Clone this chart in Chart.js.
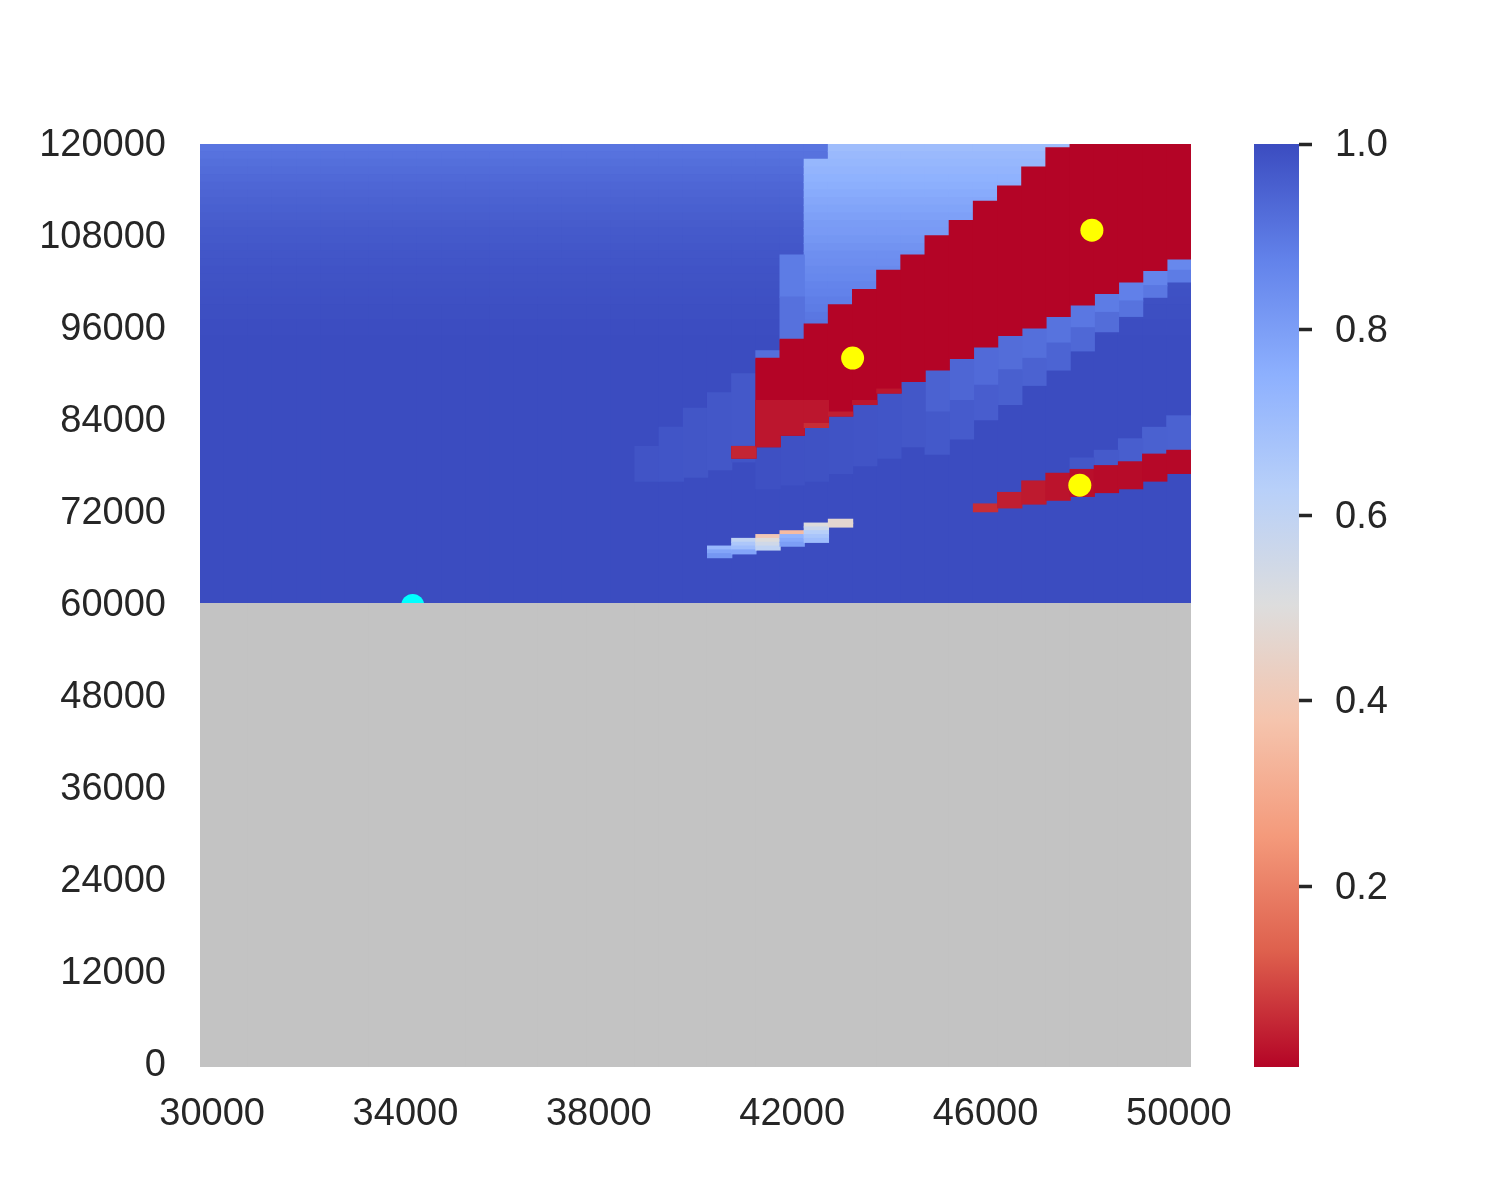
<!DOCTYPE html>
<html>
<head>
<meta charset="utf-8">
<script src="https://cdn.jsdelivr.net/npm/chart.js@4.4.0/dist/chart.umd.min.js"></script>
<style>
    body { margin: 0; background: #fff; }
    #wrap { position: relative; width: 1500px; height: 1200px; }
    #heat { position: absolute; left: 0; top: 0; }
    #cbar { position: absolute; left: 1200px; top: 0; }
</style>
</head>
<body>
<div id="wrap">
    <canvas id="heat" width="1500" height="1200"></canvas>
    <canvas id="cbar" width="300" height="1200"></canvas>
</div>
<script>
// Heatmap over the (x, y) grid with a reversed coolwarm scale

// Grid: column centres and row step
const xCols = [30000, 30500, 31000, 31500, 32000, 32500, 33000, 33500, 34000, 34500,
               35000, 35500, 36000, 36500, 37000, 37500, 38000, 38500, 39000, 39500,
               40000, 40500, 41000, 41500, 42000, 42500, 43000, 43500, 44000, 44500,
               45000, 45500, 46000, 46500, 47000, 47500, 48000, 48500, 49000, 49500, 50000];
const colStep = 500;
const rowStep = 500;
const yBottom = 0;
const yTop = 120000;
const nanTop = 60000;      // rows up to here have no value (grey)
const vmin = 0.005;
const vmax = 1.0;

const xTicks = [30000, 34000, 38000, 42000, 46000, 50000];
const yTicks = [0, 12000, 24000, 36000, 48000, 60000, 72000, 84000, 96000, 108000, 120000];
const cbarTicks = [0.2, 0.4, 0.6, 0.8, 1.0];

// Background shading by row bands [from, to, value]
const baseBands = [
    [119500, 120000, 0.905], [118500, 119000, 0.912], [117500, 118000, 0.92],
    [116500, 117000, 0.927], [115500, 116000, 0.933], [114500, 115000, 0.939],
    [113500, 114000, 0.944], [112500, 113000, 0.949], [111500, 112000, 0.954],
    [110500, 111000, 0.959], [109500, 110000, 0.963], [108500, 109000, 0.967],
    [107500, 108000, 0.971], [106500, 107000, 0.974], [105500, 106000, 0.977],
    [104500, 105000, 0.98], [103500, 104000, 0.983], [102500, 103000, 0.985],
    [101500, 102000, 0.987], [100500, 101000, 0.989], [99500, 100000, 0.991],
    [97500, 99000, 0.994], [95500, 97000, 0.997], [60500, 95000, 1.0]
];

// Light wedge above the upper red band
const wedgeCols = [25, 26, 27, 28, 29, 30, 31, 32, 33, 34, 35];
const wedgeLo = [97000, 99500, 101500, 104000, 106000, 108500, 110500, 113000, 115000, 117500, 120000];
const wedgeHi = [118000, 120000, 120000, 120000, 120000, 120000, 120000, 120000, 120000, 120000, 120000];
const wedgeBands = [
    [119500, 120000, 0.70], [118500, 119000, 0.715], [117500, 118000, 0.725],
    [116500, 117000, 0.735], [115500, 116000, 0.745], [114500, 115000, 0.755],
    [113500, 114000, 0.765], [112500, 113000, 0.775], [111500, 112000, 0.785],
    [110500, 111000, 0.795], [109500, 110000, 0.805], [108500, 109000, 0.81],
    [107500, 108000, 0.82], [106500, 107000, 0.83], [105500, 106000, 0.84],
    [104500, 105000, 0.845], [103500, 104000, 0.855], [102500, 103000, 0.86],
    [101500, 102000, 0.87], [100500, 101000, 0.875], [99500, 100000, 0.885],
    [98500, 99000, 0.89], [97500, 98000, 0.90], [96500, 97000, 0.905], [60500, 96000, 0.91]
];

// Upper red band
const redCols = [22, 23, 24, 25, 26, 27, 28, 29, 30, 31, 32, 33, 34, 35, 36, 37, 38, 39, 40];
const redLo = [79500, 81000, 82500, 83500, 85000, 86500, 88000, 89500, 91000, 92500,
               94000, 95500, 96500, 98000, 99500, 101000, 102500, 104000, 105500];
const redHi = [80500, 92000, 94500, 96500, 99000, 101000, 103500, 105500, 108000, 110000,
               112500, 114500, 117000, 119500, 120000, 120000, 120000, 120000, 120000];
const redValue = 0.005;

// Lower red band
const lowCols = [32, 33, 34, 35, 36, 37, 38, 39, 40];
const lowLo = [72500, 73000, 73500, 74000, 74500, 75000, 75500, 76500, 77500];
const lowHi = [73000, 74500, 76000, 77000, 77500, 78000, 78500, 79500, 80000];
const lowVal = [0.06, 0.04, 0.035, 0.025, 0.02, 0.015, 0.015, 0.01, 0.01];

// Blue patches [column, from, to, value]
const bluePatches = [
    [24, 100500, 105500, 0.89], [24, 95000, 100000, 0.915], [23, 92500, 93000, 0.92],
    [18, 76500, 80500, 0.982], [19, 76500, 83000, 0.98], [20, 77000, 85500, 0.978],
    [21, 78000, 87500, 0.975], [22, 81000, 90000, 0.972], [22, 79000, 79000, 0.98],
    // trail under the upper red band
    [40, 104000, 105000, 0.86], [40, 102500, 103500, 0.89],
    [39, 102000, 103500, 0.87], [39, 100500, 101500, 0.90],
    [38, 100000, 102000, 0.88], [38, 98000, 99500, 0.91],
    [37, 98500, 100500, 0.89], [37, 96000, 98000, 0.925],
    [36, 96500, 99000, 0.90], [36, 93500, 96000, 0.935],
    [35, 94500, 97500, 0.91], [35, 91000, 94000, 0.945],
    [34, 92500, 96000, 0.92], [34, 89000, 92000, 0.95],
    [33, 91000, 95000, 0.925], [33, 86500, 90500, 0.955],
    [32, 89000, 93500, 0.93], [32, 84500, 88500, 0.96],
    [31, 87000, 92000, 0.94], [31, 82000, 86500, 0.965],
    [30, 85500, 90500, 0.95], [30, 80000, 85000, 0.97],
    [29, 81000, 89000, 0.975], [28, 79500, 87500, 0.98], [27, 78500, 86000, 0.982],
    [26, 77500, 84500, 0.985], [25, 76500, 83000, 0.987], [24, 76000, 82000, 0.988],
    [23, 75500, 80500, 0.99],
    // trail above the lower red band
    [40, 80500, 84500, 0.95], [39, 80000, 83000, 0.952], [38, 79000, 81500, 0.958],
    [37, 78500, 80000, 0.968], [36, 78000, 79000, 0.975]
];

// Lighter red cells inside the upper band
const redPatches = [
    [22, 79500, 80500, 0.05], [23, 81000, 86500, 0.03], [24, 82500, 86500, 0.03],
    [25, 84000, 86500, 0.03], [25, 83500, 83500, 0.06], [26, 85000, 85000, 0.04],
    [27, 86500, 86500, 0.03], [28, 88000, 88000, 0.03]
];

// Thin light strip [column, row, value]
const stripCells = [
    [21, 67500, 0.72], [21, 67000, 0.78], [21, 66500, 0.82],
    [22, 68500, 0.60], [22, 68000, 0.66], [22, 67500, 0.70], [22, 67000, 0.78],
    [23, 69000, 0.40], [23, 68500, 0.50], [23, 68000, 0.55], [23, 67500, 0.60],
    [24, 69500, 0.35], [24, 69000, 0.74], [24, 68500, 0.77], [24, 68000, 0.80],
    [25, 70500, 0.50], [25, 70000, 0.57], [25, 69500, 0.63], [25, 69000, 0.67], [25, 68500, 0.70],
    [26, 71000, 0.47], [26, 70500, 0.47]
];

// Markers
const yellowX = [43250, 48200, 47950];
const yellowY = [92300, 109000, 75700];
const cyanX = [34150];
const cyanY = [60000];

// coolwarm colour table, blue end first
const coolwarm = [[59, 76, 192], [98, 130, 234], [141, 176, 254], [184, 208, 249], [221, 221, 221],
                  [245, 196, 173], [244, 154, 123], [222, 96, 77], [180, 4, 38]];

function coolwarmAt(p) {
    const t = Math.min(1, Math.max(0, p)) * (coolwarm.length - 1);
    const i = Math.min(Math.floor(t), coolwarm.length - 2);
    const f = t - i;
    const a = coolwarm[i], b = coolwarm[i + 1];
    const c = [0, 1, 2].map(k => Math.round(a[k] + (b[k] - a[k]) * f));
    return `rgb(${c[0]}, ${c[1]}, ${c[2]})`;
}

// reversed map: high values are blue
function colourFor(v) {
    return coolwarmAt(1 - (v - vmin) / (vmax - vmin));
}

const textColor = '#262626';
const tickFont = { family: "'Liberation Sans', Arial, sans-serif", size: 38 };

// Build the heat cells
const cells = [];
const cellColors = [];

function addRun(col, lo, hi, v) {
    if (hi < lo) return;
    cells.push({ x: xCols[col], y: [lo - rowStep / 2, hi + rowStep / 2] });
    cellColors.push(colourFor(v));
}

xCols.forEach((x, col) => {
    baseBands.forEach(b => addRun(col, b[0], b[1], b[2]));
});

wedgeCols.forEach((col, i) => {
    wedgeBands.forEach(b => {
        addRun(col, Math.max(wedgeLo[i], b[0]), Math.min(wedgeHi[i], b[1]), b[2]);
    });
});

bluePatches.forEach(p => addRun(p[0], p[1], p[2], p[3]));

redCols.forEach((col, i) => addRun(col, redLo[i], redHi[i], redValue));
redPatches.forEach(p => addRun(p[0], p[1], p[2], p[3]));

lowCols.forEach((col, i) => addRun(col, lowLo[i], lowHi[i], lowVal[i]));

stripCells.forEach(c => addRun(c[0], c[1], c[1], c[2]));

const greyCells = xCols.map(x => ({ x: x, y: [yBottom - rowStep / 2, nanTop + rowStep / 2] }));

new Chart(document.getElementById('heat'), {
    type: 'bar',
    data: {
        datasets: [
            {
                data: cells,
                backgroundColor: cellColors,
                borderWidth: 0,
                barPercentage: 1,
                categoryPercentage: 1,
                inflateAmount: 0.6,
                grouped: false,
                order: 3
            },
            {
                data: greyCells,
                backgroundColor: '#c3c3c3',
                borderWidth: 0,
                barPercentage: 1,
                categoryPercentage: 1,
                inflateAmount: 0.6,
                grouped: false,
                order: 1
            },
            {
                type: 'scatter',
                data: yellowX.map((x, i) => ({ x: x, y: yellowY[i] })),
                backgroundColor: '#ffff00',
                borderWidth: 0,
                pointRadius: 11.5,
                order: 2
            },
            {
                type: 'scatter',
                data: cyanX.map((x, i) => ({ x: x, y: cyanY[i] })),
                backgroundColor: '#00ffff',
                borderWidth: 0,
                pointRadius: 11.5,
                order: 2
            }
        ]
    },
    options: {
        responsive: false,
        animation: false,
        devicePixelRatio: 1,
        layout: { padding: { top: 144, right: 309, left: 0, bottom: 0 } },
        plugins: {
            legend: { display: false },
            tooltip: { enabled: false }
        },
        scales: {
            x: {
                type: 'linear',
                min: xCols[0] - colStep / 2,
                max: xCols[xCols.length - 1] + colStep / 2,
                offset: false,
                grid: { display: false, drawTicks: false },
                border: { display: false },
                afterBuildTicks: scale => { scale.ticks = xTicks.map(v => ({ value: v })); },
                afterFit: scale => { scale.height = 133; },
                ticks: {
                    font: tickFont,
                    color: textColor,
                    padding: 25,
                    maxRotation: 0,
                    autoSkip: false,
                    callback: v => String(v)
                }
            },
            y: {
                type: 'linear',
                min: yBottom - rowStep / 2,
                max: yTop + rowStep / 2,
                grid: { display: false, drawTicks: false },
                border: { display: false },
                afterBuildTicks: scale => { scale.ticks = yTicks.map(v => ({ value: v })); },
                afterFit: scale => { scale.width = 200; },
                ticks: {
                    font: tickFont,
                    color: textColor,
                    padding: 34,
                    labelOffset: 0,
                    autoSkip: false,
                    callback: v => String(v)
                }
            }
        }
    }
});

// Colour bar
function barGradient(context) {
    const area = context.chart.chartArea;
    if (!area) return colourFor(0.5);
    const g = context.chart.ctx.createLinearGradient(0, area.bottom, 0, area.top);
    coolwarm.forEach((c, i) => {
        const p = i / (coolwarm.length - 1);
        g.addColorStop(1 - p, `rgb(${c[0]}, ${c[1]}, ${c[2]})`);
    });
    return g;
}

new Chart(document.getElementById('cbar'), {
    type: 'bar',
    data: {
        labels: [''],
        datasets: [{
            data: [[vmin, vmax]],
            backgroundColor: barGradient,
            borderWidth: 0,
            barPercentage: 1,
            categoryPercentage: 1,
            inflateAmount: 0
        }]
    },
    options: {
        responsive: false,
        animation: false,
        devicePixelRatio: 1,
        layout: { padding: { left: 54, top: 144, bottom: 133, right: 0 } },
        plugins: {
            legend: { display: false },
            tooltip: { enabled: false }
        },
        scales: {
            x: { display: false },
            y: {
                position: 'right',
                min: vmin,
                max: vmax,
                border: { display: false },
                grid: {
                    drawOnChartArea: false,
                    drawTicks: true,
                    tickLength: 13,
                    tickWidth: 3.5,
                    tickColor: textColor
                },
                afterBuildTicks: scale => { scale.ticks = cbarTicks.map(v => ({ value: v })); },
                afterFit: scale => { scale.width = 201; },
                ticks: {
                    font: tickFont,
                    color: textColor,
                    padding: 23,
                    labelOffset: 2,
                    callback: v => v.toFixed(1)
                }
            }
        }
    }
});
</script>
</body>
</html>
